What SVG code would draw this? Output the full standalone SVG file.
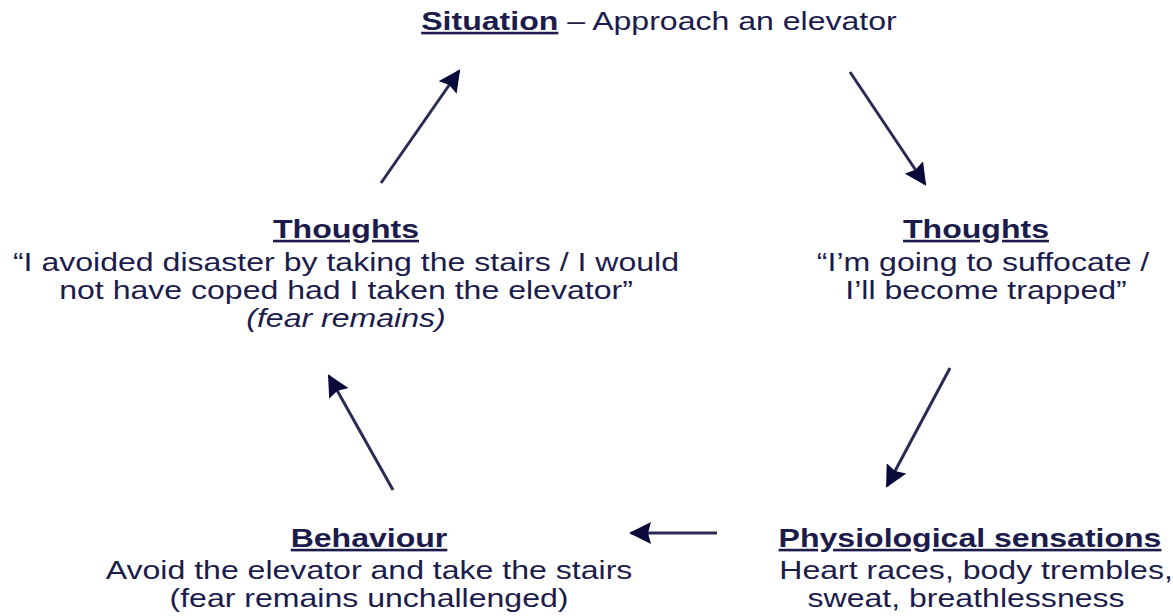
<svg xmlns="http://www.w3.org/2000/svg" width="1173" height="616" viewBox="0 0 1173 616">
<defs>
<style>
text{font-family:"Liberation Sans",Arial,sans-serif;font-size:26px;fill:#1c1c4c;text-anchor:middle}
.h{font-weight:bold;text-decoration:underline}
.i{font-style:italic}
.c{stroke:#2a2a55;stroke-width:3;fill:none}
</style>
<marker id="ah" viewBox="0 0 22 22" refX="20" refY="11" markerWidth="22" markerHeight="22" markerUnits="userSpaceOnUse" orient="auto">
<path d="M0,0 L22,11 L0,22 L3,11 Z" fill="#0a0a3a"/>
</marker>
</defs>
<rect width="1173" height="616" fill="#fff"/>
<g id="connectors">
<line class="c" x1="381" y1="183" x2="459" y2="71" marker-end="url(#ah)"/>
<line class="c" x1="850" y1="72" x2="925" y2="184" marker-end="url(#ah)"/>
<line class="c" x1="950" y1="368" x2="887" y2="486" marker-end="url(#ah)"/>
<line class="c" x1="393" y1="490" x2="329" y2="376" marker-end="url(#ah)"/>
<line class="c" x1="717" y1="533" x2="631" y2="533" marker-end="url(#ah)"/>
</g>
<g id="situation" transform="translate(659,0) scale(1.233,1)">
<text x="0" y="30"><tspan class="h">Situation</tspan> – Approach an elevator</text>
</g>
<g id="thoughts-right" transform="translate(976,0) scale(1.233,1)">
<text class="h" x="0" y="238">Thoughts</text>
<text x="5.7" y="271">“I’m going to suffocate /</text>
<text x="8.1" y="299">I’ll become trapped”</text>
</g>
<g id="physiological" transform="translate(970,0) scale(1.233,1)">
<text class="h" x="0" y="547">Physiological sensations</text>
<text x="4.9" y="579">Heart races, body trembles,</text>
<text x="-3.2" y="607">sweat, breathlessness</text>
</g>
<g id="behaviour" transform="translate(369,0) scale(1.233,1)">
<text class="h" x="0" y="547">Behaviour</text>
<text x="0" y="579">Avoid the elevator and take the stairs</text>
<text x="0" y="607">(fear remains unchallenged)</text>
</g>
<g id="thoughts-left" transform="translate(346,0) scale(1.233,1)">
<text class="h" x="0" y="238">Thoughts</text>
<text x="0" y="271">“I avoided disaster by taking the stairs / I would</text>
<text x="0" y="299">not have coped had I taken the elevator”</text>
<text class="i" x="0" y="327">(fear remains)</text>
</g>
</svg>
